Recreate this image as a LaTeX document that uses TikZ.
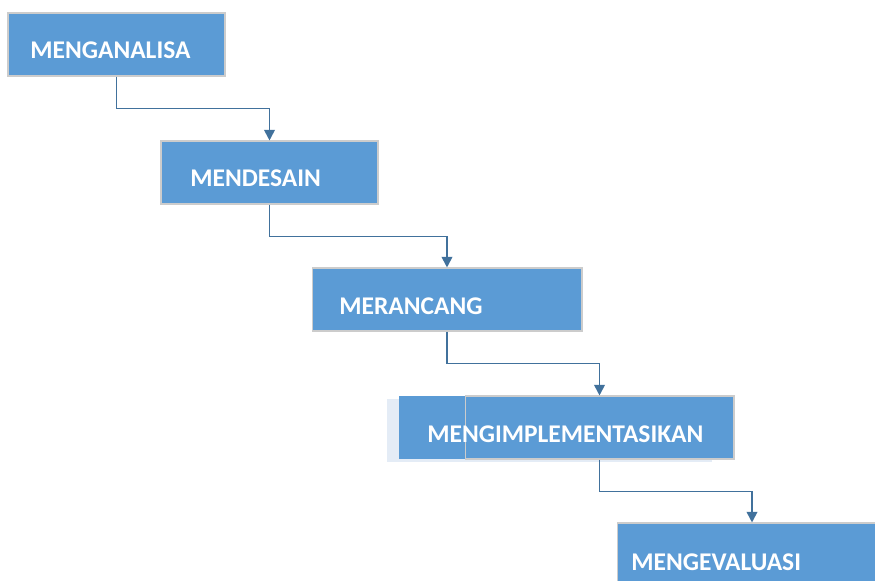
\documentclass[tikz,border=0pt]{standalone}
\usepackage{fontspec}
\setmainfont{Carlito}
\usepackage{xcolor}
\usetikzlibrary{arrows.meta}
\definecolor{boxblue}{HTML}{5B9BD5}
\definecolor{linkblue}{HTML}{41719C}
\definecolor{glow}{HTML}{E4ECF6}

\begin{document}
\begin{tikzpicture}[x=0.02cm, y=-0.02cm,
    tahap/.style={fill=boxblue, draw=gray!40, line width=0.6pt, inner sep=0pt, minimum height=1.26cm},
    teks/.style={anchor=west, inner sep=0pt, text=white, font=\fontsize{14.5}{16}\selectfont\bfseries},
    panah/.style={draw=linkblue, line width=1pt, -{Triangle[width=6pt,length=6pt]}}]
    \useasboundingbox (0,0) rectangle (875,581);
    \clip (0,0) rectangle (875,581);
    % Boxes
    \node[tahap, minimum width=4.34cm] (analisa) at (116.5,44.5) {};
    \node[tahap, minimum width=4.34cm] (desain) at (269.5,172.5) {};
    \node[tahap, minimum width=5.4cm] (rancang) at (447,299.5) {};
    \fill[glow] (387,399) rectangle (712,462);
    \fill[boxblue] (399,396) rectangle (720,459);
    \node[tahap, minimum width=5.38cm] (implementasi) at (599.5,427.5) {};
    \node[tahap, minimum width=5.4cm] (evaluasi) at (752,554.5) {};

    % Labels
    \node[teks] (tanalisa) at (30,50) {MENGANALISA};
    \node[teks] (tdesain) at (190,178) {MENDESAIN};
    \node[teks] (trancang) at (339,306) {MERANCANG};
    \node[teks] (timplementasi) at (427,434) {MENGIMPLEMENTASIKAN};
    \node[teks] (tevaluasi) at (631,562) {MENGEVALUASI};

    % Arrows
    \draw[panah] (analisa.south) -- ++(0,32) -| (desain.north);
    \draw[panah] (desain.south) -- ++(0,32) -| (rancang.north);
    \draw[panah] (rancang.south) -- ++(0,32) -| (implementasi.north);
    \draw[panah] (implementasi.south) -- ++(0,32) -| (evaluasi.north);
\end{tikzpicture}
\end{document}
